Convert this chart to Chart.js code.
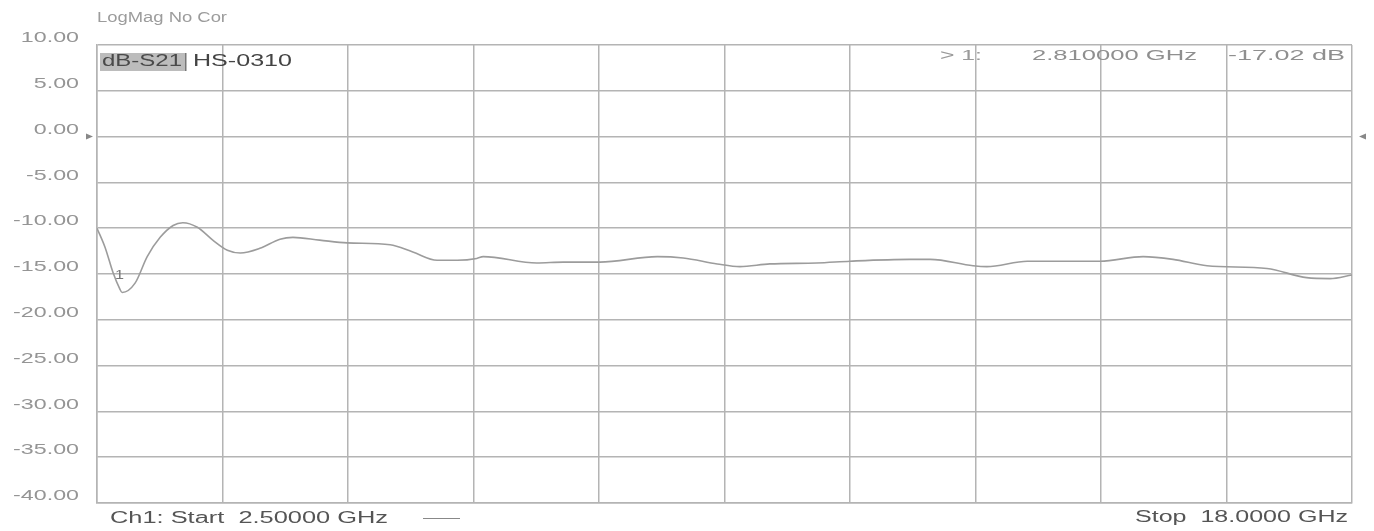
<!DOCTYPE html>
<html>
<head>
<meta charset="utf-8">
<script src="https://cdn.jsdelivr.net/npm/chart.js@4/dist/chart.umd.min.js"></script>
<style>
  html, body { margin: 0; padding: 0; background: #fff; }
  #wrap { position: relative; width: 1374px; height: 531px; }
</style>
</head>
<body>
<div id="wrap"><canvas id="c" width="1374" height="531"></canvas></div>
<script>
// S21 trace, frequency in GHz, magnitude in dB
const freqGHz = [2.50, 2.60, 2.70, 2.78, 2.81, 2.97, 3.12, 3.28, 3.44, 3.56, 3.74, 3.93, 4.11, 4.27,
  4.51, 4.76, 4.92, 5.25, 5.59, 6.12, 6.40, 6.70, 6.95, 7.19, 7.27, 7.93, 8.26, 8.71, 9.42, 9.74,
  10.16, 10.44, 10.81, 11.39, 11.80, 12.54, 12.79, 13.32, 13.49, 13.99, 14.89, 15.42, 15.79,
  16.21, 16.95, 17.44, 17.73, 18.00];
const s21dB = [-10.0, -12.1, -14.9, -16.6, -17.02, -16.0, -13.1, -11.0, -9.7, -9.4, -9.9, -11.3, -12.4, -12.7,
  -12.2, -11.2, -11.0, -11.3, -11.6, -11.8, -12.6, -13.5, -13.5, -13.3, -13.1, -13.8, -13.7, -13.7, -13.1, -13.25,
  -13.9, -14.2, -13.9, -13.8, -13.6, -13.4, -13.4, -14.1, -14.2, -13.6, -13.6, -13.1, -13.4,
  -14.1, -14.4, -15.4, -15.5, -15.1];
const yTicks = [10, 5, 0, -5, -10, -15, -20, -25, -30, -35, -40];
const markerFreq = 2.81;
const markerDB = -17.02;

const FONT = '"Liberation Sans", Arial, sans-serif';
const GRID = '#b4b4b4';

// the scanned printout has wide text, so stretch it horizontally to a given width
function wideText(ctx, text, x, y, width, size, color, align) {
  ctx.save();
  ctx.font = size + 'px ' + FONT;
  ctx.fillStyle = color;
  ctx.textBaseline = 'middle';
  ctx.textAlign = 'left';
  const sx = width / ctx.measureText(text).width;
  const left = align === 'right' ? x - width : x;
  ctx.translate(left, y);
  ctx.scale(sx, 1);
  ctx.fillText(text, 0, 0);
  ctx.restore();
}

const annotations = {
  id: 'annotations',
  afterDraw(chart) {
    const { ctx, chartArea: a, scales } = chart;

    wideText(ctx, 'LogMag No Cor', 97, 18, 130, 14, '#9c9c9c');

    // y tick labels, sitting a little above their gridlines
    ctx.save();
    ctx.font = '15px ' + FONT;
    yTicks.forEach(v => {
      const t = v.toFixed(2);
      const w = ctx.measureText(t).width * 1.55;
      wideText(ctx, t, 79, scales.y.getPixelForValue(v) - 7, w, 15, '#959595', 'right');
    });
    ctx.restore();

    // trace label
    ctx.fillStyle = '#bcbcbc';
    ctx.fillRect(100, 53, 86, 18);
    ctx.fillStyle = '#777';
    ctx.fillRect(185, 53, 1.5, 18);
    wideText(ctx, 'dB-S21', 102, 62, 80, 16, '#4a4a4a');
    wideText(ctx, 'HS-0310', 193, 62, 99, 16, '#444');

    // marker readout
    wideText(ctx, '> 1:', 940, 56, 42, 14, '#9a9a9a');
    wideText(ctx, markerFreq.toFixed(6) + ' GHz', 1032, 56, 165, 14, '#8f8f8f');
    wideText(ctx, markerDB.toFixed(2) + ' dB', 1228, 56, 117, 14, '#8f8f8f');

    // footer
    wideText(ctx, 'Ch1: Start  ' + freqGHz[0].toFixed(5) + ' GHz', 110, 519, 278, 16, '#555');
    wideText(ctx, 'Stop  ' + freqGHz[freqGHz.length - 1].toFixed(4) + ' GHz', 1135, 518, 213, 16, '#555');
    ctx.save();
    ctx.strokeStyle = '#888';
    ctx.lineWidth = 1;
    ctx.beginPath();
    ctx.moveTo(423, 518.5);
    ctx.lineTo(460, 518.5);
    ctx.stroke();

    // reference-level arrows at 0 dB
    const y0 = scales.y.getPixelForValue(0);
    ctx.fillStyle = '#888';
    ctx.beginPath();
    ctx.moveTo(a.left - 11, y0 - 3); ctx.lineTo(a.left - 4, y0); ctx.lineTo(a.left - 11, y0 + 3);
    ctx.fill();
    ctx.beginPath();
    ctx.moveTo(a.right + 14, y0 - 3); ctx.lineTo(a.right + 7, y0); ctx.lineTo(a.right + 14, y0 + 3);
    ctx.fill();
    ctx.restore();

    // marker 1 label
    const mx = scales.x.getPixelForValue(markerFreq);
    const my = scales.y.getPixelForValue(markerDB);
    wideText(ctx, '1', mx - 7, my - 17, 9, 12, '#777');
  }
};

new Chart(document.getElementById('c'), {
  type: 'line',
  data: {
    datasets: [{
      data: freqGHz.map((f, i) => ({ x: f, y: s21dB[i] })),
      borderColor: '#9c9c9c',
      borderWidth: 1.6,
      pointRadius: 0,
      tension: 0.4,
      cubicInterpolationMode: 'monotone',
    }]
  },
  options: {
    responsive: false,
    animation: false,
    layout: { padding: { left: 0, top: 45, right: 22, bottom: 28 } },
    plugins: { legend: { display: false }, tooltip: { enabled: false } },
    scales: {
      x: {
        type: 'linear',
        min: 2.5,
        max: 18,
        ticks: { display: false, count: 11 },
        grid: { color: GRID, lineWidth: 1.5, drawTicks: false },
        border: { color: GRID, width: 1.5 },
        afterFit: s => { s.height = 0; },
      },
      y: {
        min: -40,
        max: 10,
        afterBuildTicks: s => { s.ticks = yTicks.map(v => ({ value: v })); },
        ticks: { display: false },
        grid: { color: GRID, lineWidth: 1.5, drawTicks: false },
        border: { color: GRID, width: 1.5 },
        afterFit: s => { s.width = 97; },
      },
    },
  },
  plugins: [annotations],
});
</script>
</body>
</html>
